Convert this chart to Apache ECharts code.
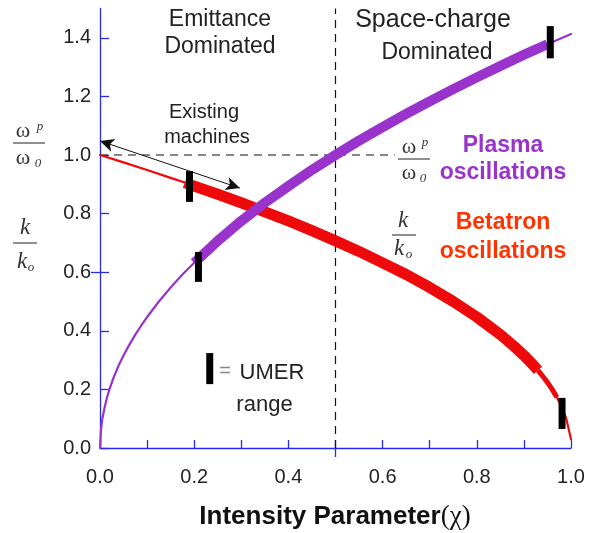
<!DOCTYPE html>
<html><head><meta charset="utf-8">
<script src="https://cdn.jsdelivr.net/npm/echarts@6/dist/echarts.min.js"></script>
<style>html,body{margin:0;padding:0;background:#fff}#c{width:597px;height:533px}</style>
</head><body><div id="c"></div>
<script>
// ---- data ----
const xTickValues = [0,0.1,0.2,0.3,0.4,0.5,0.6,0.7,0.8,0.9,1.0];
const xLabelValues = [0,0.2,0.4,0.6,0.8,1.0];
const yTickValues = [0,0.2,0.4,0.6,0.8,1.0,1.2,1.4];

// Plasma oscillations  (omega_p / omega_0 vs chi)
const plasmaX = [0,0.002,0.005,0.01,0.015,0.02,0.03,0.04,0.05,0.06,0.075,0.09,0.1,0.125,0.15,0.175,0.2,0.25,0.3,0.35,0.4,0.45,0.5,0.55,0.6,0.65,0.7,0.75,0.8,0.85,0.9,0.95,1.0];
const plasmaY = [0,0.06,0.1,0.14,0.173,0.2,0.245,0.283,0.316,0.346,0.387,0.424,0.447,0.5,0.548,0.592,0.632,0.707,0.775,0.837,0.894,0.949,1.0,1.049,1.095,1.14,1.183,1.225,1.265,1.304,1.342,1.378,1.413];
const plasmaUmer = [0.2, 0.95];   // thick (UMER) range in chi

// Betatron oscillations (k / k_0 vs chi)
const betaX = [0,0.05,0.1,0.15,0.18,0.2,0.25,0.3,0.35,0.4,0.45,0.5,0.55,0.6,0.65,0.7,0.75,0.8,0.85,0.88,0.9,0.92,0.93,0.94,0.95,0.96,0.97,0.98,0.99,1.0];
const betaY = [1.0,0.975,0.949,0.922,0.906,0.894,0.866,0.837,0.806,0.775,0.742,0.707,0.671,0.632,0.592,0.548,0.5,0.447,0.387,0.346,0.316,0.283,0.265,0.245,0.224,0.2,0.173,0.141,0.1,0.03];
const betaUmer = [0.18, 0.93, 0.97]; // thick start, thick end, medium end

// UMER range markers (chi, low, high)
const umerX  = [0.19, 0.209, 0.956, 0.981];
const umerLo = [0.84, 0.567, 1.33, 0.065];
const umerHi = [0.945, 0.669, 1.44, 0.171];
const keyBar = [0.233, 0.218, 0.324];

// reference lines
const hDashY = 1.0, hDashEnd = 0.626;
const vDashX = 0.5;
const arrowFrom = [0.0, 1.048], arrowTo = [0.297, 0.887];

// ---- build ----
const PURPLE = '#9933cc', RED = '#ee0a0a', ORANGE = '#ff3300', BLUE = '#2a2aee';
function seg(xs, ys, lo, hi) {
  const out = [];
  for (let i = 0; i < xs.length; i++) if (xs[i] >= lo - 1e-9 && xs[i] <= hi + 1e-9) out.push([xs[i], ys[i]]);
  return out;
}
function curve(data, color, width, z, cap) {
  return {type:'line', data, symbol:'none', silent:true, smooth:false, z,
    lineStyle:{color, width, cap:cap || 'round', join:'round'}};
}
const bars = umerX.map((x, i) => [x, umerLo[i], umerHi[i]]);
bars.push(keyBar);

const series = [
  curve(seg(betaX, betaY, 0, betaUmer[0]), RED, 2.2, 2),
  curve(seg(betaX, betaY, betaUmer[0], betaUmer[1]), RED, 11, 2, 'butt'),
  curve(seg(betaX, betaY, betaUmer[1], betaUmer[2]), RED, 5, 2, 'butt'),
  curve(seg(betaX, betaY, betaUmer[2], 1.0), RED, 2.2, 2),
  curve(seg(plasmaX, plasmaY, 0, plasmaUmer[0]), PURPLE, 2.2, 3),
  curve(seg(plasmaX, plasmaY, plasmaUmer[0], plasmaUmer[1]), PURPLE, 10, 3, 'butt'),
  curve(seg(plasmaX, plasmaY, plasmaUmer[1], 1.0), PURPLE, 2.2, 3),
  {type:'line', data:[[0,hDashY],[hDashEnd,hDashY]], symbol:'none', silent:true, z:1,
   lineStyle:{color:'#111', width:1.2, type:[8,6]},
   markLine:{silent:true, symbol:['arrow','arrow'], symbolSize:[10,14], animation:false,
     lineStyle:{color:'#111', type:'solid', width:1}, label:{show:false},
     data:[[{coord:arrowFrom},{coord:arrowTo}]]}},
  {type:'line', data:[[vDashX,0],[vDashX,1.5]], symbol:'none', silent:true, z:1,
   lineStyle:{color:'#111', width:1.2, type:[8,6]}},
  {type:'custom', silent:true, z:5, data:bars, encode:{x:0, y:[1,2]},
   renderItem(params, api) {
     const p1 = api.coord([api.value(0), api.value(1)]);
     const p2 = api.coord([api.value(0), api.value(2)]);
     return {type:'rect', shape:{x:p1[0]-3.5, y:p2[1], width:7, height:p1[1]-p2[1]}, style:{fill:'#000'}};
   }}
];

const TXT = '#222', SANS = 'Liberation Sans, Arial, sans-serif', SERIF = 'Liberation Serif, Times New Roman, serif';
function t(x, y, text, o) {
  return Object.assign({type:'text', x, y, silent:true, z:10,
    style:Object.assign({text, fill:TXT, font:'23px ' + SANS, align:'center', verticalAlign:'middle'}, o || {})});
}
function bar(x1, x2, y) {
  return {type:'rect', silent:true, z:10, shape:{x:x1, y:y-0.6, width:x2-x1, height:1.2}, style:{fill:'#444'}};
}
const FC = '#333';
const graphics = [
  t(220, 20, 'Emittance'), t(220, 47, 'Dominated'),
  t(433, 20, 'Space-charge', {font:'25px ' + SANS}), t(437, 53, 'Dominated'),
  t(204, 112, 'Existing', {font:'20px ' + SANS}), t(207, 137, 'machines', {font:'20px ' + SANS}),
  t(225, 371, '=', {font:'20px ' + SANS, fill:'#888'}),
  t(272, 373, 'UMER', {font:'22px ' + SANS}), t(264.5, 405, 'range', {font:'22px ' + SANS}),
  t(503, 146, 'Plasma', {font:'bold 23px ' + SANS, fill:PURPLE}),
  t(503, 173, 'oscillations', {font:'bold 23px ' + SANS, fill:PURPLE}),
  t(503, 223, 'Betatron', {font:'bold 23px ' + SANS, fill:ORANGE}),
  t(503, 252, 'oscillations', {font:'bold 23px ' + SANS, fill:ORANGE}),
  // left omega_p / omega_0
  t(23, 131, 'ω', {font:'22px ' + SERIF, fill:FC}), t(40, 127, 'p', {font:'italic 13px ' + SERIF, fill:FC}),
  bar(13, 45, 143),
  t(23, 158, 'ω', {font:'22px ' + SERIF, fill:FC}), t(38, 164, '0', {font:'italic 13px ' + SERIF, fill:FC}),
  // left k / k_0
  t(25, 228, 'k', {font:'italic 23px ' + SERIF, fill:FC}),
  bar(13, 37, 243),
  t(22, 262, 'k', {font:'italic 23px ' + SERIF, fill:FC}), t(31, 268, 'o', {font:'italic 13px ' + SERIF, fill:FC}),
  // right omega_p / omega_0
  t(409, 147, 'ω', {font:'22px ' + SERIF, fill:FC}), t(425, 143, 'p', {font:'italic 13px ' + SERIF, fill:FC}),
  bar(398, 430, 159),
  t(409, 173, 'ω', {font:'22px ' + SERIF, fill:FC}), t(423, 179, '0', {font:'italic 13px ' + SERIF, fill:FC}),
  // right k / k_0
  t(403, 221, 'k', {font:'italic 23px ' + SERIF, fill:FC}),
  bar(392, 416, 235),
  t(399, 249, 'k', {font:'italic 23px ' + SERIF, fill:FC}), t(409, 255, 'o', {font:'italic 13px ' + SERIF, fill:FC}),
  // x-axis title
  {type:'text', x:335, y:517, silent:true, z:10, style:{text:'{a|Intensity Parameter}{b|(χ)}', align:'center', verticalAlign:'middle',
    rich:{a:{font:'bold 26px ' + SANS, fill:'#111'}, b:{font:'27px ' + SERIF, fill:'#111'}}}}
];

const lbl = {color:'#222', fontSize:20, fontFamily:SANS, formatter:v => (+v).toFixed(1)};
const option = {
  animation:false,
  backgroundColor:'#fff',
  grid:{left:100, right:26, top:8.5, bottom:85, containLabel:false},
  xAxis:[{type:'value', min:0, max:1, position:'bottom',
    axisLine:{show:true, onZero:false, lineStyle:{color:BLUE, width:1.3}},
    axisTick:{show:true, inside:true, length:8, customValues:xTickValues, lineStyle:{color:BLUE, width:1.3}},
    axisLabel:Object.assign({margin:19, customValues:xLabelValues}, lbl),
    splitLine:{show:false}},
   {type:'value', min:0, max:1, position:'top',
    axisLine:{show:false}, axisLabel:{show:false}, splitLine:{show:false},
    axisTick:{show:true, inside:true, length:9, customValues:[0.5], lineStyle:{color:BLUE, width:1.3}}}],
  yAxis:[{type:'value', min:0, max:1.5, position:'left',
    axisLine:{show:true, onZero:false, lineStyle:{color:BLUE, width:1.3}},
    axisTick:{show:true, inside:true, length:9, customValues:yTickValues, lineStyle:{color:BLUE, width:1.3}},
    axisLabel:Object.assign({margin:9, customValues:yTickValues}, lbl),
    splitLine:{show:false}},
   {type:'value', min:0, max:1.5, position:'right',
    axisLine:{show:false}, axisLabel:{show:false}, splitLine:{show:false},
    axisTick:{show:true, inside:true, length:9, customValues:[0.6], lineStyle:{color:BLUE, width:1.3}}}],
  series,
  graphic:graphics
};
const chart = echarts.init(document.getElementById('c'), null, {renderer:'canvas'});
chart.setOption(option);
</script></body></html>
